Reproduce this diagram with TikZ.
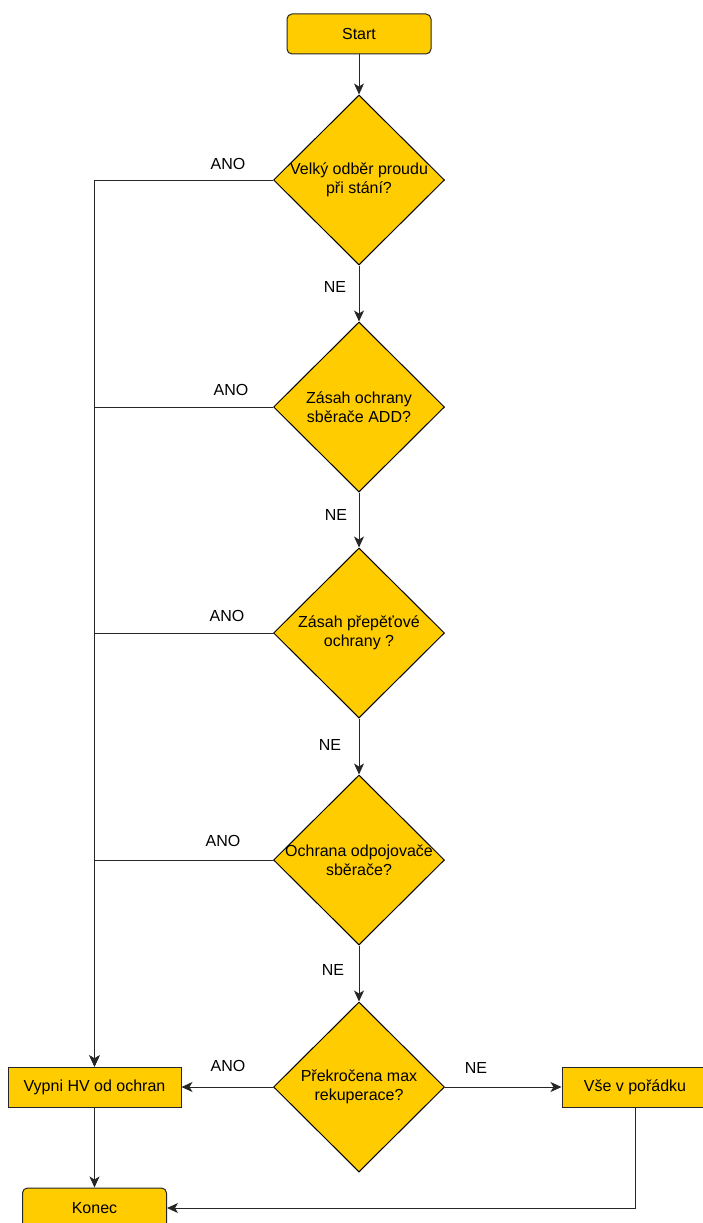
\documentclass[tikz,border=0pt]{standalone}
\usepackage{fontspec}
\setmainfont{Liberation Sans}
\usepackage{xcolor}
\usetikzlibrary{arrows.meta,shapes.geometric}
\definecolor{dioyellow}{HTML}{FFCC00}
\newcommand{\qlines}[2]{\makebox[0pt]{#1}\\\makebox[0pt]{#2}}

\begin{document}
\begin{tikzpicture}[x=1pt, y=-1pt]
    \tikzset{term/.style={rectangle, rounded corners=5pt, draw=black!85, fill=dioyellow,
                          line width=1pt, minimum width=144pt, minimum height=40pt,
                          inner sep=0pt, font=\fontsize{16}{19}\selectfont},
             proc/.style={rectangle, draw=black!85, fill=dioyellow, line width=1pt,
                          minimum height=40pt, inner sep=0pt, font=\fontsize{16}{19}\selectfont},
             ask/.style={diamond, aspect=1, draw=black, fill=dioyellow, line width=1pt,
                         minimum width=171pt, minimum height=170pt, inner sep=0pt,
                         align=center, font=\fontsize{16}{19}\selectfont},
             lbl/.style={font=\fontsize{16}{19}\selectfont, inner sep=0pt},
             link/.style={-{Stealth[length=11pt, width=10pt, inset=3pt]}, line width=1pt, draw=black!85}}
    \useasboundingbox (0,0) rectangle (702,1223);
    \node[term] (start) at (359,34) {Start};
    \node[ask] (q1) at (359,180) {\qlines{Velký odběr proudu}{při stání?}};
    \node[ask] (q2) at (359,407) {\qlines{Zásah ochrany}{sběrače ADD?}};
    \node[ask] (q3) at (359,633) {\qlines{Zásah přepěťové}{ochrany ?}};
    \node[ask] (q4) at (359,860) {\qlines{Ochrana odpojovače}{sběrače?}};
    \node[ask] (q5) at (359,1087) {\qlines{Překročena max}{rekuperace?}};
    \node[proc, minimum width=173pt] (vypni) at (94.5,1087) {Vypni HV od ochran};
    \node[proc, minimum width=146pt] (vse) at (635,1087) {Vše v pořádku};
    \node[term] (konec) at (94.5,1208) {Konec};
    % labels
    \node[lbl] (ano1) at (228,164) {ANO};
    \node[lbl] (ano2) at (231,390) {ANO};
    \node[lbl] (ano3) at (227,616) {ANO};
    \node[lbl] (ano4) at (223,841) {ANO};
    \node[lbl] (ano5) at (228,1066) {ANO};
    \node[lbl] (ne1) at (335,287) {NE};
    \node[lbl] (ne2) at (336,515) {NE};
    \node[lbl] (ne3) at (330,745) {NE};
    \node[lbl] (ne4) at (333,970) {NE};
    \node[lbl] (ne5) at (476,1068) {NE};
    % connectors
    \draw[link] (start) -- (q1);
    \draw[link] (q1) -- (q2);
    \draw[link] (q2) -- (q3);
    \draw[link] (q3) -- (q4);
    \draw[link] (q4) -- (q5);
    \foreach \q in {q1,q2,q3,q4}
        \draw[link] (\q.west) -| (vypni.north);
    \draw[link] (q5) -- (vypni);
    \draw[link] (q5) -- (vse);
    \draw[link] (vypni) -- (konec);
    \draw[link] (vse.south) |- (konec.east);
\end{tikzpicture}
\end{document}
